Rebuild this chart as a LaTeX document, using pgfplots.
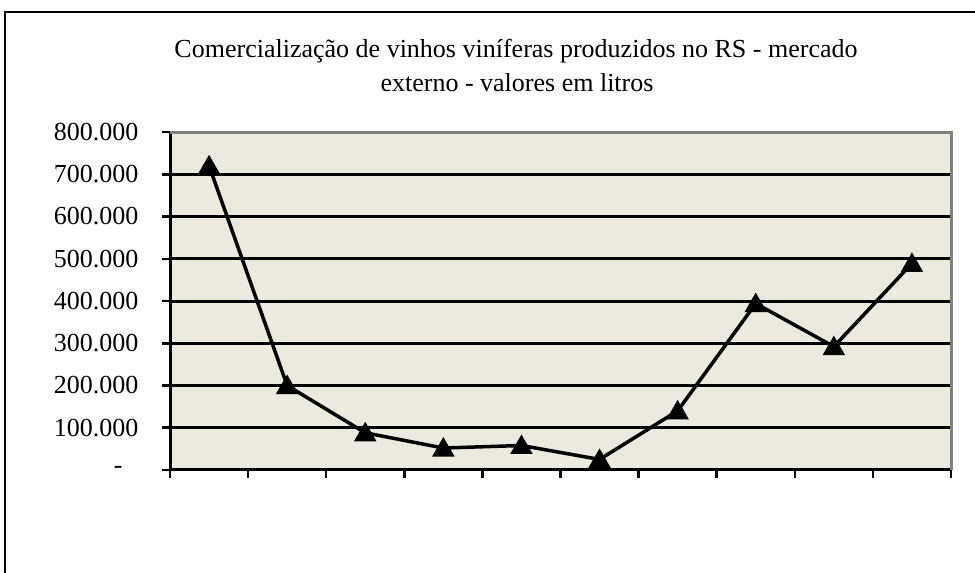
\documentclass[border=0pt]{standalone}
\usepackage{pgfplots}
\pgfplotsset{compat=1.18}
\usepackage{fontspec}
\setmainfont{Liberation Serif}
\definecolor{plotbg}{HTML}{ECE9DF}
\begin{document}
\begin{tikzpicture}
\useasboundingbox (0pt,0pt) rectangle (975pt,573pt);
\draw[line width=2pt] (4.5pt,-5pt) -- (4.5pt,561pt) -- (980pt,561pt);
\node[anchor=base, inner sep=0pt, font=\fontsize{26}{30}\selectfont] at (516pt,515pt) {Comercialização de vinhos viníferas produzidos no RS - mercado};
\node[anchor=base, inner sep=0pt, font=\fontsize{26}{30}\selectfont] at (517pt,481pt) {externo - valores em litros};
\begin{axis}[
  at={(170pt,103pt)}, anchor=south west, scale only axis,
  width=781pt, height=338pt,
  xmin=0.5, xmax=10.5, ymin=0, ymax=800000,
  axis lines=left,
  axis line style={-, line width=3pt, black},
  xtick={0.5,1.5,2.5,3.5,4.5,5.5,6.5,7.5,8.5,9.5,10.5},
  xticklabels={},
  ytick={0,100000,200000,300000,400000,500000,600000,700000,800000},
  yticklabels={{-\hspace*{16pt}},100.000,200.000,300.000,400.000,500.000,600.000,700.000,800.000},
  yticklabel style={xshift=-20pt},
  tick align=outside,
  tick style={black, line width=2.5pt},
  major tick length=8pt,
  ymajorgrids,
  major grid style={black, line width=3pt},
  axis background/.style={fill=plotbg},
  ticklabel style={font=\fontsize{26}{30}\selectfont},
  scaled y ticks=false,
  clip=false,
  after end axis/.code={
    \draw[gray, line width=3pt] (rel axis cs:0,1) -- (rel axis cs:1,1) -- (rel axis cs:1,0);
  },
]
\addplot[black, line width=3.5pt, mark=triangle*, mark size=9.5pt, mark options={solid, yshift=-2pt}] coordinates {
  (1,720000) (2,200000) (3,88000) (4,52000) (5,58000)
  (6,25000) (7,140000) (8,394000) (9,292000) (10,489000)
};
\end{axis}
\end{tikzpicture}
\end{document}
